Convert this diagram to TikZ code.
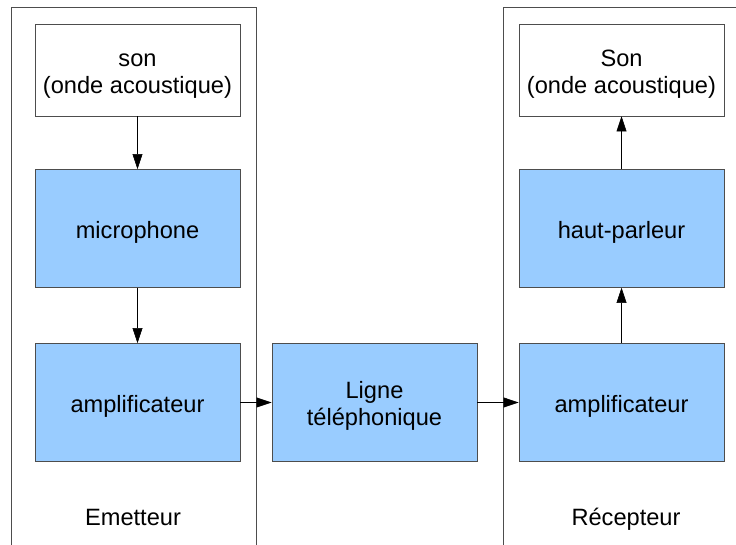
\documentclass[tikz,border=0pt]{standalone}
\usepackage{fontspec}
\setmainfont{Liberation Sans}
\usetikzlibrary{arrows.meta}
\definecolor{bleu}{HTML}{99CCFF}
\definecolor{bord}{HTML}{4D4D4D}
\newcommand{\bas}[1]{\raisebox{-0.11cm}[\height][\depth]{\begin{tabular}{@{}c@{}}#1\end{tabular}}}
\tikzset{
  blocbleu/.style={draw=bord,fill=bleu,minimum width=5.125cm,minimum height=2.95cm},
  blocblanc/.style={draw=bord,fill=white,minimum width=5.125cm,minimum height=2.3cm},
  fleche/.style={draw=black,-{Triangle[length=0.38cm,width=0.25cm]}}
}
\begin{document}
\begin{tikzpicture}[font=\fontsize{16.8pt}{19.2pt}\selectfont]
    \useasboundingbox (0,0) rectangle (18.4,13.6);
    \newcommand{\gauche}{3.4375}
    \newcommand{\droite}{15.5375}
    % les deux cadres
    \draw[bord] (0.275,-0.2) -- (0.275,13.425) -- (6.4,13.425) -- (6.4,-0.2);
    \draw[bord] (12.575,-0.2) -- (12.575,13.425) -- (18.6,13.425);
    % emetteur
    \node[blocblanc] (son) at (\gauche,11.85) {\bas{son\\(onde acoustique)}};
    \node[blocbleu] (micro) at (\gauche,7.8875) {\bas{microphone}};
    \node[blocbleu] (ampliE) at (\gauche,3.5375) {\bas{amplificateur}};
    \node[anchor=base] (emetteur) at (3.325,0.475) {Emetteur};
    % ligne
    \node[blocbleu] (ligne) at (9.3625,3.5375) {\bas{Ligne\\téléphonique}};
    % recepteur
    \node[blocbleu] (ampliR) at (\droite,3.5375) {\bas{amplificateur}};
    \node[blocbleu] (hp) at (\droite,7.8875) {\bas{haut-parleur}};
    \node[blocblanc] (sonR) at (\droite,11.85) {\bas{Son\\(onde acoustique)}};
    \node[anchor=base] (recepteur) at (15.65,0.475) {Récepteur};
    % fleches
    \draw[fleche] (son) -- (micro);
    \draw[fleche] (micro) -- (ampliE);
    \draw[fleche] (ampliE) -- (ligne);
    \draw[fleche] (ligne) -- (ampliR);
    \draw[fleche] (ampliR) -- (hp);
    \draw[fleche] (hp) -- (sonR);
\end{tikzpicture}
\end{document}
